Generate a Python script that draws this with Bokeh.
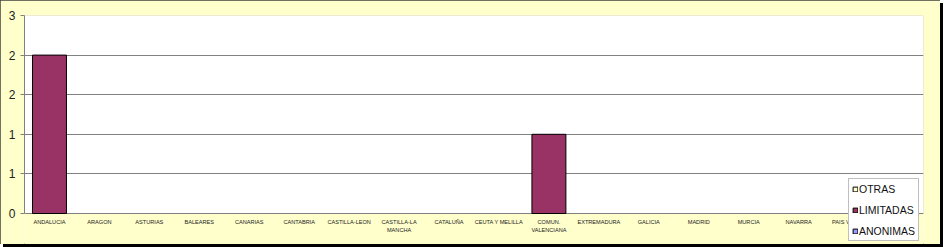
from bokeh.plotting import figure
from bokeh.models import (ColumnDataSource, Legend, LegendItem, BoxAnnotation,
                          FixedTicker, Range1d)
from bokeh.core.properties import value
from bokeh.embed import file_html
from bokeh.resources import INLINE

# ---- data ----
regions = ["ANDALUCIA", "ARAGON", "ASTURIAS", "BALEARES", "CANARIAS", "CANTABRIA",
           "CASTILLA-LEON", "CASTILLA-LA MANCHA", "CATALUÑA", "CEUTA Y MELILLA",
           "COMUN. VALENCIANA", "EXTREMADURA", "GALICIA", "MADRID", "MURCIA",
           "NAVARRA", "PAIS VASCO", "LA RIOJA"]
region_labels = ["ANDALUCIA", "ARAGON", "ASTURIAS", "BALEARES", "CANARIAS", "CANTABRIA",
                 "CASTILLA-LEON", "CASTILLA-LA\nMANCHA", "CATALUÑA", "CEUTA Y MELILLA",
                 "COMUN.\nVALENCIANA", "EXTREMADURA", "GALICIA", "MADRID", "MURCIA",
                 "NAVARRA", "PAIS VASCO", "LA RIOJA"]
anonimas = [0, 0, 0, 0, 0, 0, 0, 0, 0, 0, 0, 0, 0, 0, 0, 0, 0, 0]
limitadas = [2, 0, 0, 0, 0, 0, 0, 0, 0, 0, 1, 0, 0, 0, 0, 0, 0, 0]
otras = [0, 0, 0, 0, 0, 0, 0, 0, 0, 0, 0, 0, 0, 0, 0, 0, 0, 0]
series_names = ["OTRAS", "LIMITADAS", "ANONIMAS"]
y_ticks = [0, 0.5, 1, 1.5, 2, 2.5]
y_tick_labels = ["0", "1", "1", "2", "2", "3"]

colors = {"OTRAS": "#FFFFCC", "LIMITADAS": "#993366", "ANONIMAS": "#9999FF"}
FONT = "Liberation Sans"
BAR_W = 0.68

# layout in pixels
W, H = 940, 244
TOP, AXIS_Y = 15, 213          # pixel rows of y=2.5 and y=0
px_per_unit = (AXIS_Y - TOP) / y_ticks[-1]
y_min = -(H - AXIS_Y) / px_per_unit   # frame extends below zero to the canvas bottom

p = figure(x_range=regions, y_range=Range1d(y_min, y_ticks[-1]), width=W, height=H,
           output_backend="svg", toolbar_location=None,
           min_border_left=24, min_border_right=17, min_border_top=TOP, min_border_bottom=0,
           background_fill_color="#FFFFCC", border_fill_color="#FFFFCC",
           outline_line_color=None,
           styles={"box-shadow": "3px 3px 0px #000000", "outline": "1px solid #404040",
                   "outline-offset": "-1px"})

# white plot area (from 0 up to the top)
p.add_layout(BoxAnnotation(bottom=0, fill_color="white", fill_alpha=1,
                           line_color="#808080", line_width=1, level="image"))

b0 = [0] * len(regions)
b1 = [a + l for a, l in zip(anonimas, limitadas)]
b2 = [x + o for x, o in zip(b1, otras)]
stack = {
    "ANONIMAS": (b0, anonimas, anonimas),
    "LIMITADAS": (anonimas, b1, limitadas),
    "OTRAS": (b1, b2, otras),
}
renderers = {}
for name in ["ANONIMAS", "LIMITADAS", "OTRAS"]:
    bottom, top, vals = stack[name]
    widths = [BAR_W if v > 0 else 0 for v in vals]
    src = ColumnDataSource(dict(x=regions, bottom=bottom, top=top, w=widths))
    r = p.vbar(x="x", bottom="bottom", top="top", width="w", source=src,
               fill_color=colors[name], line_color="black", line_width=1)
    renderers[name] = r

p.xgrid.grid_line_color = None
p.ygrid.grid_line_color = "#808080"
p.ygrid.grid_line_width = 1

p.yaxis.ticker = FixedTicker(ticks=y_ticks)
p.yaxis.bounds = (0, y_ticks[-1])
p.yaxis.major_label_overrides = {t: l for t, l in zip(y_ticks, y_tick_labels)}
p.yaxis.axis_line_color = "#808080"
p.yaxis.major_tick_line_color = "#808080"
p.yaxis.major_tick_out = 4
p.yaxis.major_tick_in = 0
p.yaxis.minor_tick_line_color = None
p.yaxis.major_label_text_font = FONT
p.yaxis.major_label_text_font_size = "12px"
p.yaxis.major_label_text_color = "#222222"
p.yaxis.major_label_standoff = 5
p.xaxis.visible = False

# category labels (two lines where needed), hung just below y = 0
line1 = [s.split("\n")[0] for s in region_labels]
line2 = [s.split("\n")[1] if "\n" in s else "" for s in region_labels]
lab_src = ColumnDataSource(dict(x=regions, y=b0, t1=line1, t2=line2))
for col, off in (("t1", 5), ("t2", 13)):
    p.text(x="x", y="y", text=col, source=lab_src, y_offset=off,
           text_font=value(FONT), text_font_size="5.6px", text_color="#222222",
           text_align="center", text_baseline="top")

legend = Legend(items=[LegendItem(label=n, renderers=[renderers[n]]) for n in series_names],
                location=(824, 3), orientation="vertical",
                background_fill_color="white", background_fill_alpha=1,
                border_line_color="#808080", border_line_width=1,
                label_text_font=FONT, label_text_font_size="10.5px", label_text_color="#111111",
                glyph_width=6, glyph_height=6, label_height=13, label_standoff=1,
                spacing=8, padding=3, margin=0)
p.add_layout(legend, "center")

open("out.html", "w").write(file_html(p, INLINE))
